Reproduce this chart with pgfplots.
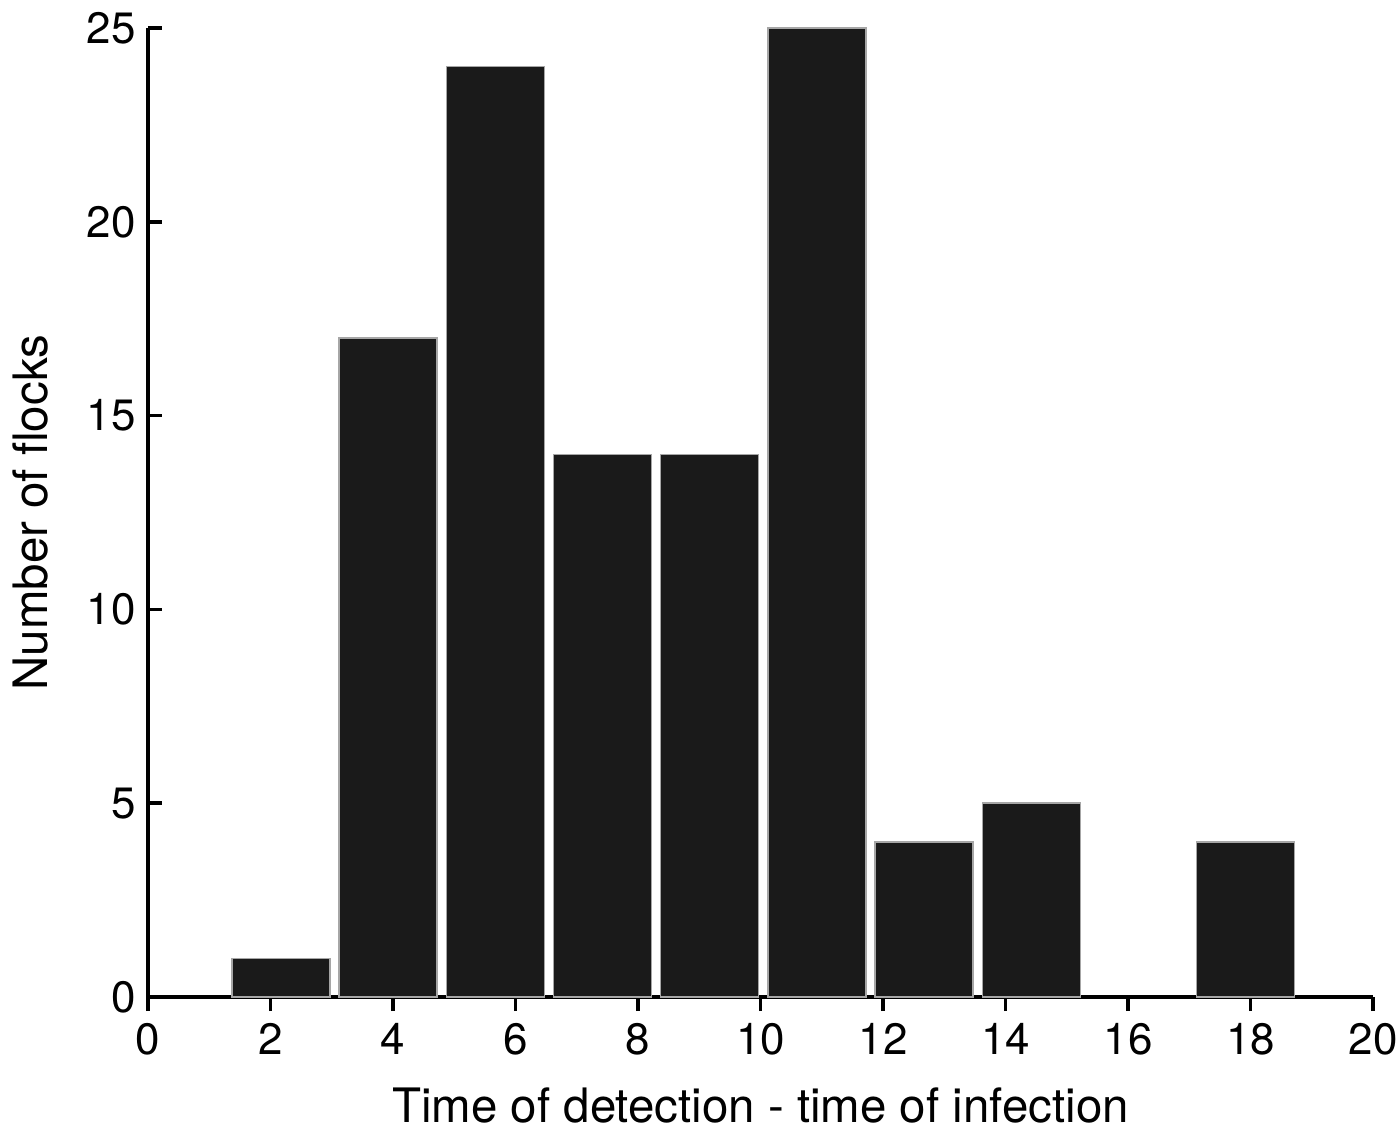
\documentclass[border=0pt]{standalone}
\usepackage{pgfplots}
\pgfplotsset{compat=1.18}
\usepackage{fontspec}
\setmainfont{TeX Gyre Heros}

\definecolor{barfill}{RGB}{26,26,26}

\begin{document}
\begin{tikzpicture}
\begin{axis}[
    scale only axis,
    width=12.25cm,
    height=9.69cm,
    xmin=0, xmax=20,
    ymin=0, ymax=25,
    axis x line=bottom,
    axis y line=left,
    axis line style={-, line width=1.1pt},
    tick style={line width=1pt, black},
    major tick length=0.14cm,
    tick align=inside,
    xtick={0,2,...,20},
    ytick={0,5,...,25},
    tick label style={font=\fontsize{12.5}{14}\selectfont},
    /pgf/number format/assume math mode=true,
    label style={font=\fontsize{13.5}{16}\selectfont},
    xlabel={Time of detection - time of infection},
    ylabel={Number of flocks},
    xlabel style={yshift=-2.5pt},
    ylabel style={yshift=4pt},
    ybar,
    bar width=1.6,
]
% empty bins are not drawn
\addplot[fill=barfill, draw=gray!70, line width=0.4pt,
    y filter/.expression={y==0 ? nan : y}, unbounded coords=discard] coordinates {
    (2.17,1) (3.92,17) (5.67,24) (7.42,14) (9.17,14)
    (10.92,25) (12.67,4) (14.42,5) (16.17,0) (17.92,4)
};
\coordinate (bl) at (rel axis cs:0,0);
\coordinate (tr) at (rel axis cs:1,1);
\end{axis}
\pgfresetboundingbox
\path[use as bounding box] ([shift={(-1.48cm,-1.40cm)}]bl) rectangle ([shift={(0.27cm,0.28cm)}]tr);
\end{tikzpicture}
\end{document}
